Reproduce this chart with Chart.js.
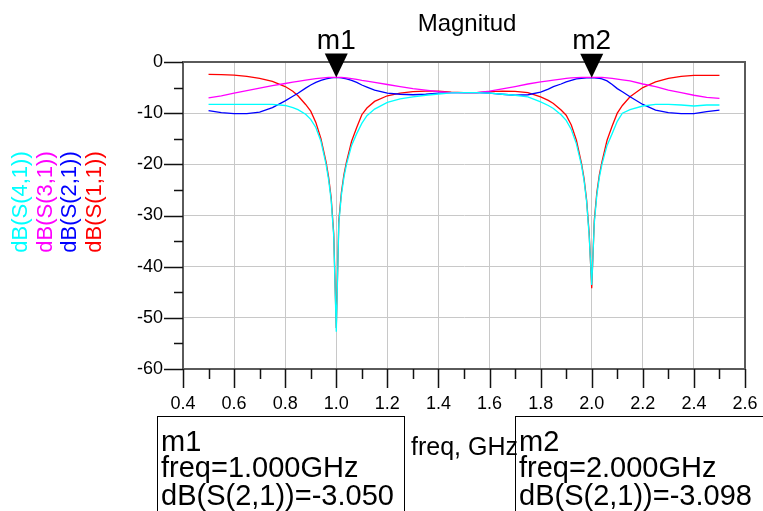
<!DOCTYPE html>
<html>
<head>
<meta charset="utf-8">
<script src="https://cdn.jsdelivr.net/npm/chart.js@4/dist/chart.umd.min.js"></script>
<style>
  html, body { margin: 0; padding: 0; background: #fff; }
  #wrap { width: 763px; height: 511px; }
</style>
</head>
<body>
<div id="wrap"><canvas id="sparams" width="763" height="511"></canvas></div>
<script>
// swept frequency points, GHz (denser around the two notches)
const FREQ_GHZ = [
    0.50, 0.55, 0.60, 0.65, 0.70, 0.75, 0.80, 0.83, 0.85, 0.88,
    0.90, 0.92, 0.94, 0.96, 0.97, 0.98, 0.99, 1.00, 1.01, 1.02,
    1.03, 1.04, 1.06, 1.08, 1.10, 1.12, 1.15, 1.20, 1.25, 1.30,
    1.35, 1.40, 1.45, 1.50, 1.55, 1.60, 1.65, 1.70, 1.75, 1.80,
    1.83, 1.85, 1.88, 1.90, 1.92, 1.94, 1.96, 1.97, 1.98, 1.99,
    2.00, 2.01, 2.02, 2.03, 2.04, 2.06, 2.08, 2.10, 2.12, 2.15,
    2.20, 2.25, 2.30, 2.35, 2.40, 2.45, 2.50
];

const S11_DB = [
    -2.4, -2.45, -2.55, -2.8, -3.2, -3.8, -4.8, -5.7, -6.6, -8.3,
    -9.6, -11.8, -15.0, -19.5, -22.5, -26.5, -33.5, -52.0, -31.0, -25.5,
    -22.0, -19.5, -15.5, -12.8, -10.3, -9.0, -7.7, -6.6, -6.1, -5.8,
    -5.7, -5.7, -5.9, -6.0, -6.0, -5.8, -5.7, -5.75, -6.0, -6.8,
    -7.5, -8.1, -9.4, -10.4, -12.3, -15.3, -19.8, -22.8, -27.0, -33.5,
    -44.2, -31.0, -25.5, -22.0, -19.5, -15.3, -12.5, -10.0, -8.5, -6.8,
    -5.0, -3.9, -3.2, -2.8, -2.6, -2.6, -2.6
];

const S21_DB = [
    -9.5, -9.9, -10.1, -10.1, -9.8, -8.9, -7.6, -6.7, -6.1, -5.1,
    -4.5, -4.0, -3.6, -3.3, -3.2, -3.1, -3.07, -3.05, -3.07, -3.1,
    -3.2, -3.3, -3.6, -4.0, -4.5, -4.9, -5.5, -6.1, -6.3, -6.4,
    -6.3, -6.1, -6.0, -6.0, -6.0, -6.1, -6.3, -6.5, -6.4, -5.9,
    -5.3, -4.8, -4.3, -3.9, -3.6, -3.3, -3.2, -3.15, -3.1, -3.1,
    -3.098, -3.1, -3.15, -3.2, -3.3, -3.7, -4.4, -5.2, -5.8, -6.8,
    -8.3, -9.4, -9.9, -10.1, -10.1, -9.7, -9.4
];

const S31_DB = [
    -7.0, -6.6, -6.1, -5.6, -5.1, -4.6, -4.2, -3.95, -3.8, -3.55,
    -3.4, -3.25, -3.15, -3.05, -3.0, -3.0, -3.0, -3.0, -3.0, -3.0,
    -3.05, -3.1, -3.25, -3.4, -3.6, -3.75, -4.0, -4.4, -4.8, -5.2,
    -5.5, -5.8, -6.0, -6.0, -6.0, -5.7, -5.25, -4.8, -4.3, -3.9,
    -3.7, -3.55, -3.35, -3.2, -3.1, -3.05, -3.0, -3.0, -3.0, -3.0,
    -3.0, -3.0, -3.0, -3.0, -3.0, -3.1, -3.2, -3.35, -3.5, -3.7,
    -4.3, -4.8, -5.5, -6.0, -6.5, -6.9, -7.1
];

const S41_DB = [
    -8.3, -8.3, -8.3, -8.3, -8.3, -8.3, -8.5, -8.9, -9.3, -10.2,
    -11.2, -12.8, -15.5, -20.0, -23.0, -27.0, -34.0, -52.7, -31.5, -26.0,
    -22.5, -20.0, -16.3, -14.0, -12.0, -10.5, -9.2, -7.9, -7.2, -6.8,
    -6.5, -6.25, -6.05, -6.0, -6.0, -6.1, -6.3, -6.5, -6.8, -7.8,
    -8.5, -9.1, -10.3, -11.4, -13.2, -16.0, -20.2, -23.2, -27.3, -34.0,
    -43.6, -31.5, -26.0, -22.5, -20.0, -16.3, -14.0, -11.6, -10.0, -9.3,
    -8.6, -8.3, -8.3, -8.4, -8.6, -8.4, -8.4
];

const TRACE_NAMES = ['dB(S(4,1))', 'dB(S(3,1))', 'dB(S(2,1))', 'dB(S(1,1))'];
const TRACE_COLORS = ['#00ffff', '#ff00ff', '#0000ff', '#ff0000'];

const MARKERS = [
    { name: 'm1', freq: 1.000, db: -3.050 },
    { name: 'm2', freq: 2.000, db: -3.098 },
];

const FONT = '"Liberation Sans", Arial, sans-serif';
const AXIS_DARK = '#5a5a5a';

function toPoints(values) {
    return FREQ_GHZ.map((f, i) => ({ x: f, y: values[i] }));
}

// frame, minor ticks, title, rotated trace names and the marker readouts
const adsDecor = {
    id: 'adsDecor',
    afterDraw(chart) {
        const { ctx, chartArea: a, scales: { x, y } } = chart;
        ctx.save();

        ctx.strokeStyle = AXIS_DARK;
        ctx.lineWidth = 2;
        ctx.beginPath();
        ctx.moveTo(a.left, a.top); ctx.lineTo(a.right, a.top); ctx.lineTo(a.right, a.bottom);
        ctx.stroke();

        // tick marks: majors long, minors halfway between
        ctx.strokeStyle = '#111';
        ctx.lineWidth = 1.5;
        ctx.beginPath();
        for (let v = 0.4; v <= 2.6001; v += 0.1) {
            const px = Math.round(x.getPixelForValue(v)) + 0.5;
            const major = Math.round(v * 10) % 2 === 0;
            ctx.moveTo(px, a.bottom);
            ctx.lineTo(px, a.bottom + (major ? 19 : 10));
        }
        for (let v = 0; v >= -60; v -= 5) {
            const py = Math.round(y.getPixelForValue(v)) + 0.5;
            ctx.moveTo(a.left, py);
            ctx.lineTo(a.left - (v % 10 === 0 ? 19 : 9), py);
        }
        ctx.stroke();

        ctx.fillStyle = '#000';
        ctx.textAlign = 'center';
        ctx.textBaseline = 'middle';
        ctx.font = '24px ' + FONT;
        ctx.fillText('Magnitud', 467, 24);

        // trace names, rotated, one column per trace
        ctx.font = '22px ' + FONT;
        TRACE_NAMES.forEach((name, i) => {
            ctx.save();
            ctx.translate(21 + i * 24.5, 202);
            ctx.rotate(-Math.PI / 2);
            ctx.fillStyle = TRACE_COLORS[i];
            ctx.fillText(name, 0, 0);
            ctx.restore();
        });

        MARKERS.forEach(m => {
            const mx = x.getPixelForValue(m.freq);
            const my = y.getPixelForValue(m.db);
            ctx.fillStyle = '#000';
            ctx.beginPath();
            ctx.moveTo(mx, my);
            ctx.lineTo(mx - 11.5, my - 24);
            ctx.lineTo(mx + 11.5, my - 24);
            ctx.closePath();
            ctx.fill();
            ctx.font = '28px ' + FONT;
            ctx.textBaseline = 'alphabetic';
            ctx.fillText(m.name, mx, my - 29);
        });

        ctx.font = '25px ' + FONT;
        ctx.textAlign = 'left';
        ctx.textBaseline = 'middle';
        ctx.fillText('freq, GHz', 411, 448);

        const boxes = [{ left: 157, right: 404 }, { left: 515, right: 775 }];
        MARKERS.forEach((m, i) => {
            const b = boxes[i];
            ctx.strokeStyle = '#000';
            ctx.lineWidth = 1;
            ctx.strokeRect(b.left + 0.5, 416.5, b.right - b.left, 110);
            ctx.fillStyle = '#000';
            ctx.font = '29px ' + FONT;
            ctx.textBaseline = 'alphabetic';
            ctx.fillText(m.name, b.left + 4, 451);
            ctx.fillText('freq=' + m.freq.toFixed(3) + 'GHz', b.left + 4, 477);
            ctx.fillText('dB(S(2,1))=' + m.db.toFixed(3), b.left + 4, 505);
        });

        ctx.restore();
    }
};

// keep the plot box fixed regardless of tick label overhang
function fixBox(size) {
    return s => {
        if (s.isHorizontal()) s.height = size; else s.width = size;
        s.paddingLeft = 0; s.paddingRight = 0; s.paddingTop = 0; s.paddingBottom = 0;
    };
}

new Chart(document.getElementById('sparams'), {
    type: 'scatter',
    data: {
        datasets: [
            { label: TRACE_NAMES[0], data: toPoints(S41_DB), borderColor: TRACE_COLORS[0] },
            { label: TRACE_NAMES[1], data: toPoints(S31_DB), borderColor: TRACE_COLORS[1] },
            { label: TRACE_NAMES[2], data: toPoints(S21_DB), borderColor: TRACE_COLORS[2] },
            { label: TRACE_NAMES[3], data: toPoints(S11_DB), borderColor: TRACE_COLORS[3] },
        ].map(ds => ({ ...ds, showLine: true, pointRadius: 0, borderWidth: 1.3, tension: 0 }))
    },
    options: {
        responsive: false,
        animation: false,
        devicePixelRatio: 1,
        layout: { padding: { top: 62, right: 18, bottom: 0, left: 0 } },
        plugins: { legend: { display: false }, tooltip: { enabled: false } },
        scales: {
            x: {
                type: 'linear', min: 0.4, max: 2.6,
                afterFit: fixBox(142),
                ticks: {
                    stepSize: 0.2, padding: 24, color: '#000',
                    font: { family: FONT, size: 18 },
                    callback: v => v.toFixed(1)
                },
                grid: { color: '#c8c8c8', lineWidth: 1, drawTicks: false },
                border: { color: AXIS_DARK, width: 2 }
            },
            y: {
                min: -60, max: 0,
                afterFit: fixBox(183),
                ticks: {
                    stepSize: 10, padding: 20, color: '#000',
                    font: { family: FONT, size: 18 }
                },
                grid: { color: '#c8c8c8', lineWidth: 1, drawTicks: false },
                border: { color: AXIS_DARK, width: 2 }
            }
        }
    },
    plugins: [adsDecor]
});
</script>
</body>
</html>
